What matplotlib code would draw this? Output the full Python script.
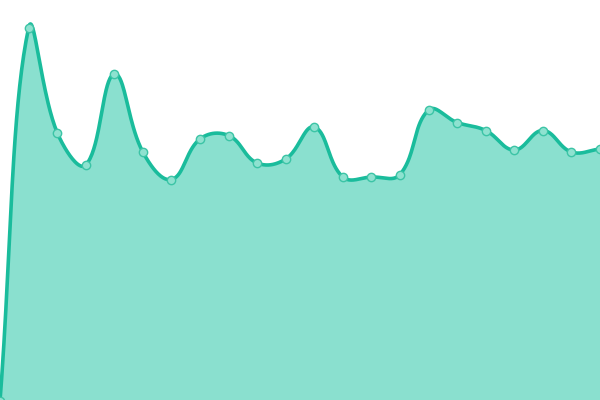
import matplotlib
matplotlib.use("Agg")
import matplotlib.pyplot as plt
import numpy as np

# values (pixel height from the bottom, chart is 0..400)
values = [-1, 372, 267.5, 235, 326, 248, 220.5, 261, 264.5, 237, 241, 273,
          223, 223, 225.5, 290, 277.5, 269.5, 250, 269.5, 248, 251]
labels = list(range(len(values)))

W, H = 600, 400
lineColor = "#1abc9c"
fillColor = "#8ae0cf"


def splineControls(pts, t=0.4):
	# chart.js style cardinal spline control points
	ctrls = []
	n = len(pts)
	for i in range(n):
		prev = pts[max(i - 1, 0)]
		cur = pts[i]
		nxt = pts[min(i + 1, n - 1)]
		d01 = np.hypot(cur[0] - prev[0], cur[1] - prev[1])
		d12 = np.hypot(nxt[0] - cur[0], nxt[1] - cur[1])
		tot = d01 + d12
		s01 = d01 / tot if tot else 0
		s12 = d12 / tot if tot else 0
		fa = t * s01
		fb = t * s12
		p = (cur[0] - fa * (nxt[0] - prev[0]), cur[1] - fa * (nxt[1] - prev[1]))
		q = (cur[0] + fb * (nxt[0] - prev[0]), cur[1] + fb * (nxt[1] - prev[1]))
		p = (min(max(p[0], 0), W), min(max(p[1], -5), H))
		q = (min(max(q[0], 0), W), min(max(q[1], -5), H))
		ctrls.append((p, q))
	return ctrls


xs = np.array(labels) * W / (len(values) - 1)
pts = list(zip(xs, values))
ctrls = splineControls(pts)

curveX = []
curveY = []
tt = np.linspace(0, 1, 40)
for i in range(len(pts) - 1):
	p0 = np.array(pts[i])
	p1 = np.array(ctrls[i][1])
	p2 = np.array(ctrls[i + 1][0])
	p3 = np.array(pts[i + 1])
	for s in tt:
		b = (1 - s) ** 3 * p0 + 3 * (1 - s) ** 2 * s * p1 + 3 * (1 - s) * s ** 2 * p2 + s ** 3 * p3
		curveX.append(b[0])
		curveY.append(b[1])

fig = plt.figure(figsize=(6, 4), dpi=100)
ax = fig.add_axes([0, 0, 1, 1])
ax.set_xlim(0, W)
ax.set_ylim(0, H)
ax.axis("off")

ax.fill_between(curveX, curveY, -5, color=fillColor, linewidth=0)
ax.plot(curveX, curveY, color=lineColor, linewidth=2.6, solid_capstyle="round")
ax.plot(xs, values, "o", markersize=6, markerfacecolor="#8ee2d0",
	markeredgecolor="#3cc4a6", markeredgewidth=1, clip_on=False)

fig.savefig("out.png", dpi=100)
